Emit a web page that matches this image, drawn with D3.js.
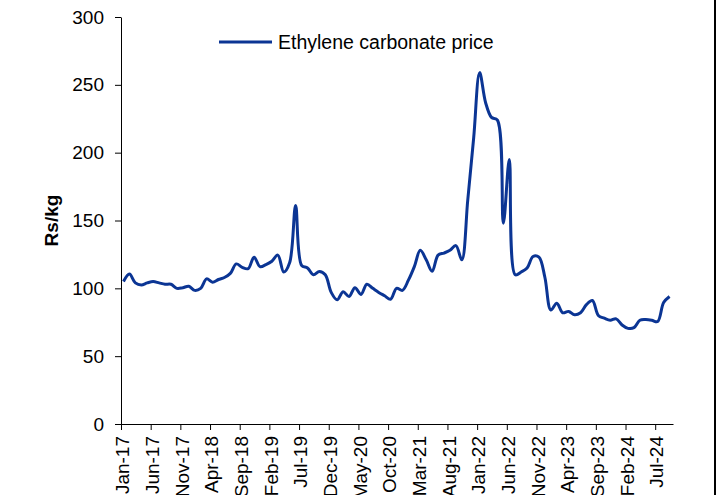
<!DOCTYPE html>
<html>
<head>
<meta charset="utf-8">
<script src="https://cdn.jsdelivr.net/npm/d3@7"></script>
<style>
  html, body { margin: 0; padding: 0; background: #fff; }
  svg { display: block; font-family: Arial, "Liberation Sans", sans-serif; }
</style>
</head>
<body>
<svg id="chart" width="718" height="495"></svg>
<script>
// Monthly ethylene carbonate price, Jan-17 to Sep-24 (Rs/kg)
const startYear = 2017;
const monthNames = ["Jan","Feb","Mar","Apr","May","Jun","Jul","Aug","Sep","Oct","Nov","Dec"];
const prices = [
  105, 110.5, 104, 102.5, 104, 105, 104, 103, 103, 100,     // 2017
  100.5, 101.5, 98.5, 100, 107, 104.5, 106.5, 108, 111, 118, // to Aug-18
  115.5, 114.5, 123, 116, 117.5, 120, 124.5, 112, 119, 161,  // to Jun-19
  117, 115, 110, 112.5, 110, 97, 91.5, 97.5, 94, 100.5,      // to Apr-20
  95.5, 103, 100, 97, 94.5, 92, 100, 98.5, 106, 116,         // to Feb-21
  128, 121, 112.5, 124.5, 126, 128, 131.5, 121, 165, 211,    // to Dec-21
  259, 237, 226, 224, 148, 195, 110, 112, 115, 123.5,        // to Oct-22
  123, 108, 84, 89, 82, 83, 80.5, 82, 88, 91,                // to Aug-23
  80, 78, 76.5, 77.5, 73, 70.5, 71, 76.5, 77, 76.5,          // to Jun-24
  75.5, 89.5, 94                                              // to Sep-24
];
const yTicks = [0, 50, 100, 150, 200, 250, 300];
const xTickStep = 5; // a label every five months
const seriesName = "Ethylene carbonate price";
const yTitle = "Rs/kg";

const monthLabel = i => {
  const yr = startYear + Math.floor(i / 12);
  return monthNames[i % 12] + "-" + String(yr).slice(2);
};

const svg = d3.select("#chart");
const plotLeft = 121, plotRight = 673, plotTop = 17, plotBottom = 424;

const x = d3.scaleLinear().domain([0, prices.length]).range([plotLeft, plotRight]);
const y = d3.scaleLinear().domain([0, 300]).range([plotBottom, plotTop]);

// y axis
const yAxis = svg.append("g")
  .attr("transform", `translate(${plotLeft},0)`)
  .call(d3.axisLeft(y).tickValues(yTicks).tickSize(6).tickSizeOuter(0).tickPadding(11));
yAxis.select(".domain").attr("stroke", "#000");
yAxis.selectAll(".tick line").attr("stroke", "#000");
yAxis.selectAll(".tick text").attr("fill", "#000").style("font-size", "19px");

// x axis
const xTickVals = d3.range(0, prices.length, xTickStep);
const xAxis = svg.append("g")
  .attr("transform", `translate(0,${plotBottom})`)
  .call(d3.axisBottom(x).tickValues(xTickVals).tickFormat(monthLabel)
        .tickSize(6).tickSizeOuter(0));
xAxis.select(".domain").attr("stroke", "#000");
xAxis.selectAll(".tick line").attr("stroke", "#000");
xAxis.selectAll(".tick text")
  .attr("fill", "#000")
  .style("font-size", "19px")
  .attr("text-anchor", "end")
  .attr("dy", "0.35em")
  .attr("transform", "translate(1,0) rotate(-90)")
  .attr("x", -12)
  .attr("y", 0);

// y axis title
svg.append("text")
  .attr("transform", `translate(58,${(plotTop + plotBottom) / 2}) rotate(-90)`)
  .attr("text-anchor", "middle")
  .style("font-size", "19px")
  .style("font-weight", "bold")
  .attr("fill", "#000")
  .text(yTitle);

// price line
const line = d3.line()
  .x((d, i) => x(i + 0.42))
  .y(d => y(d))
  .curve(d3.curveCatmullRom.alpha(0.5));

svg.append("path")
  .datum(prices)
  .attr("fill", "none")
  .attr("stroke", "#0b3594")
  .attr("stroke-width", 3)
  .attr("stroke-linejoin", "round")
  .attr("d", line);

// legend
const legend = svg.append("g").attr("transform", "translate(219,42)");
legend.append("line")
  .attr("x1", 0).attr("x2", 53).attr("y1", 0).attr("y2", 0)
  .attr("stroke", "#0b3594").attr("stroke-width", 3);
legend.append("text")
  .attr("x", 59).attr("y", 0).attr("dy", "0.35em")
  .style("font-size", "19.5px").attr("fill", "#000")
  .text(seriesName);

// frame edge on the right
svg.append("line")
  .attr("x1", 715).attr("x2", 715).attr("y1", 0).attr("y2", 495)
  .attr("stroke", "#000").attr("stroke-width", 2);
</script>
</body>
</html>
